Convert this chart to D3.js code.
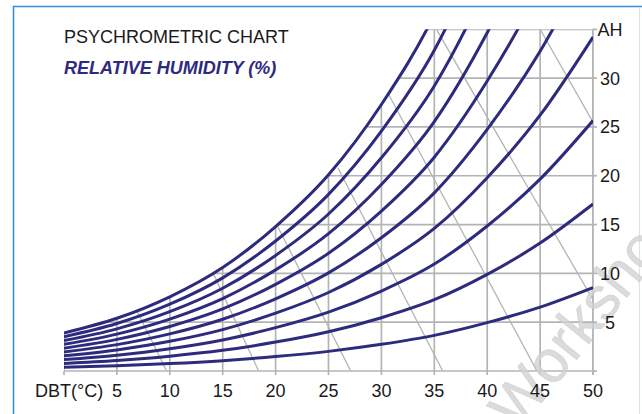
<!DOCTYPE html>
<html>
<head>
<meta charset="utf-8">
<script src="https://cdn.jsdelivr.net/npm/d3@7"></script>
<style>
  body { margin: 0; background: #fff; }
  text { font-family: "Liberation Sans", Arial, Helvetica, sans-serif; }
</style>
</head>
<body>
<div id="container"></div>
<script>
// psychrometric chart - dry bulb temp vs absolute humidity

// dry bulb temperatures (°C) where the saturation curve was read
const dbt = [0, 5, 10, 15, 20, 25, 30, 35, 40, 45, 50];
// absolute humidity at saturation (100%)
const satAH = [3.9, 5.4, 7.6, 10.6, 14.8, 20.1, 27.3, 36.5, 49.5, 65.5, 85.5];
// relative humidity curves drawn
const rhLevels = [10, 20, 30, 40, 50, 60, 70, 80, 90, 100];

const xTicks = [5, 10, 15, 20, 25, 30, 35, 40, 45, 50];
const ahTicks = [5, 10, 15, 20, 25, 30];
const xGrid = [0, 5, 10, 15, 20, 25, 30, 35, 40, 45, 50];
const ahGrid = [5, 10, 15, 20, 25, 30, 35];

// the gray diagonal lines: upper point [dbt, ah] and dbt where they reach ah = 0
const wbTop = [[6.7, 6.6], [14.1, 10], [20.2, 14.8], [25.9, 20.8], [30.5, 28.7], [35.2, 35], [45, 35]];
const wbBottom = [9.7, 18.4, 27.1, 35.8, 44.7, 53.9, 63.4];

const width = 642;
const height = 414;
const navy = "#2d2b7d";
const gray = "#b4b4b4";

const x = d3.scaleLinear().domain([0, 50]).range([64, 593]);
const y = d3.scaleLinear().domain([0, 35]).range([371, 29.3]);

const satPoints = dbt.map((t, i) => [t, satAH[i]]);

const svg = d3.create("svg")
    .attr("width", width)
    .attr("height", height);

// cadre bleu
svg.append("path")
    .attr("d", `M13.5,${height + 5} V6.5 H${width + 5}`)
    .attr("fill", "none")
    .attr("stroke", "#3b8fd4")
    .attr("stroke-width", 1.6);
svg.append("line")
    .attr("x1", 639.5).attr("x2", 639.5)
    .attr("y1", 7).attr("y2", height)
    .attr("stroke", "#dde3ea")
    .attr("stroke-width", 1.2);

const defs = svg.append("defs");
defs.append("clipPath")
    .attr("id", "plot")
    .append("rect")
    .attr("x", x(0)).attr("y", y(35))
    .attr("width", x(50) - x(0)).attr("height", y(0) - y(35));

// zone sous la courbe de saturation
defs.append("clipPath")
    .attr("id", "under")
    .append("path")
    .attr("d", d3.area()
        .x(d => x(d[0]))
        .y0(y(0) + 1)
        .y1(d => y(d[1]))
        .curve(d3.curveMonotoneX)(satPoints));

const gridG = svg.append("g")
    .attr("clip-path", "url(#plot)")
    .append("g")
    .attr("clip-path", "url(#under)");

gridG.selectAll(".v")
    .data(xGrid)
    .join("line")
    .attr("x1", d => x(d)).attr("x2", d => x(d))
    .attr("y1", y(0)).attr("y2", y(35))
    .attr("stroke", gray)
    .attr("stroke-width", 1.7);

gridG.selectAll(".h")
    .data(ahGrid)
    .join("line")
    .attr("x1", x(0)).attr("x2", x(50))
    .attr("y1", d => y(d)).attr("y2", d => y(d))
    .attr("stroke", gray)
    .attr("stroke-width", 1.7);

gridG.selectAll(".wb")
    .data(wbTop)
    .join("line")
    .attr("x1", d => x(d[0]))
    .attr("y1", d => y(d[1]))
    .attr("x2", (d, i) => x(wbBottom[i]))
    .attr("y2", y(0))
    .attr("stroke", gray)
    .attr("stroke-width", 1.3);

// bottom + right border lines, with the small ticks outside
svg.append("line")
    .attr("x1", x(0)).attr("x2", x(50))
    .attr("y1", y(0)).attr("y2", y(0))
    .attr("stroke", gray).attr("stroke-width", 1.7);
svg.append("line")
    .attr("x1", x(50)).attr("x2", x(50))
    .attr("y1", y(0) + 4).attr("y2", y(35))
    .attr("stroke", gray).attr("stroke-width", 1.7);
svg.append("g").selectAll("line")
    .data(xGrid)
    .join("line")
    .attr("x1", d => x(d)).attr("x2", d => x(d))
    .attr("y1", y(0)).attr("y2", y(0) + 4)
    .attr("stroke", gray).attr("stroke-width", 1.7);
svg.append("g").selectAll("line")
    .data([0].concat(ahGrid))
    .join("line")
    .attr("x1", x(50)).attr("x2", x(50) + 4)
    .attr("y1", d => y(d)).attr("y2", d => y(d))
    .attr("stroke", gray).attr("stroke-width", 1.7);

// filigrane (sous les courbes)
svg.append("text")
    .attr("transform", "translate(518,432) rotate(-51)")
    .attr("font-size", 60)
    .attr("fill", "#d2d2d2")
    .attr("fill-opacity", 0.8)
    .attr("stroke", "#c4c4c4")
    .attr("stroke-width", 0.6)
    .attr("stroke-opacity", 0.6)
    .text("Workshop");

// courbes d'humidité relative
const line = d3.line()
    .x(d => x(d[0]))
    .y(d => y(d[1]))
    .curve(d3.curveMonotoneX);

svg.append("g")
    .attr("clip-path", "url(#plot)")
    .selectAll("path")
    .data(rhLevels)
    .join("path")
    .attr("d", rh => line(satPoints.map(p => [p[0], p[1] * rh / 100])))
    .attr("fill", "none")
    .attr("stroke", navy)
    .attr("stroke-width", 3);

// labels
svg.append("text")
    .attr("x", 64).attr("y", 43.3)
    .attr("font-size", 18)
    .attr("fill", "#1a1a1a")
    .text("PSYCHROMETRIC CHART");

svg.append("text")
    .attr("x", 64).attr("y", 73.5)
    .attr("font-size", 18)
    .attr("font-weight", "bold")
    .attr("font-style", "italic")
    .attr("fill", navy)
    .text("RELATIVE HUMIDITY (%)");

svg.append("g").selectAll("text")
    .data(xTicks)
    .join("text")
    .attr("x", d => x(d))
    .attr("y", 397)
    .attr("text-anchor", "middle")
    .attr("font-size", 18)
    .attr("fill", "#1a1a1a")
    .text(d => d);

svg.append("text")
    .attr("x", 35).attr("y", 397)
    .attr("font-size", 18)
    .attr("fill", "#1a1a1a")
    .text("DBT(°C)");

svg.append("g").selectAll("text")
    .data(ahTicks)
    .join("text")
    .attr("x", 610)
    .attr("y", d => y(d))
    .attr("dy", "0.36em")
    .attr("text-anchor", "middle")
    .attr("font-size", 18)
    .attr("fill", "#1a1a1a")
    .text(d => d);

svg.append("text")
    .attr("x", 610).attr("y", y(35))
    .attr("dy", "0.36em")
    .attr("text-anchor", "middle")
    .attr("font-size", 18)
    .attr("fill", "#1a1a1a")
    .text("AH");

d3.select("#container").node().append(svg.node());
</script>
</body>
</html>
